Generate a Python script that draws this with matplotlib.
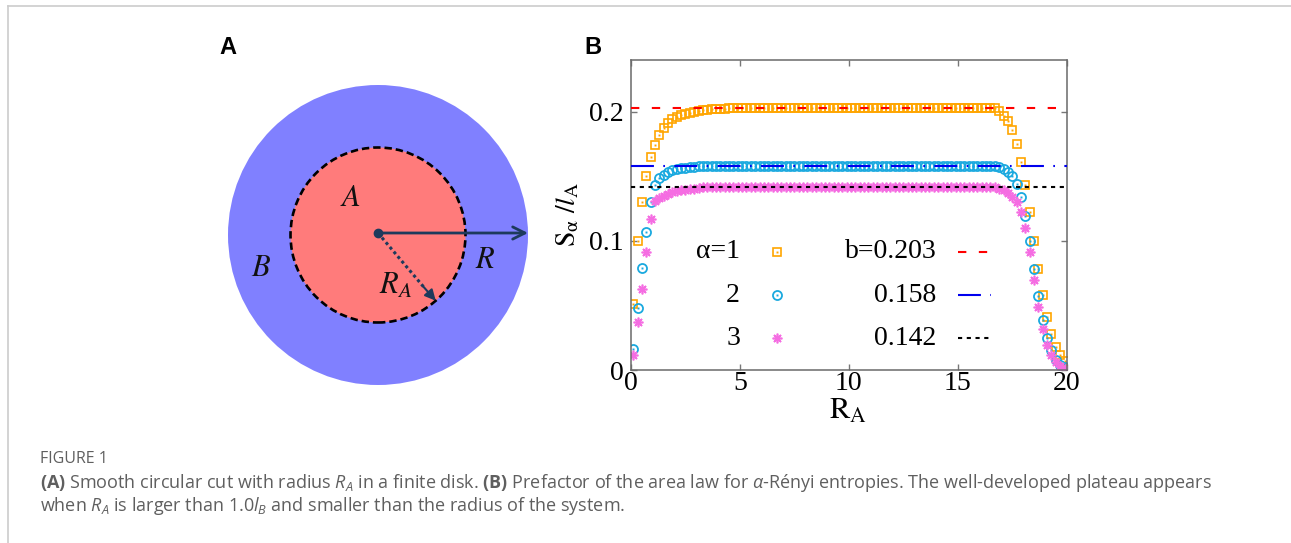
import numpy as np
import matplotlib
matplotlib.use("Agg")
import matplotlib.pyplot as plt
from matplotlib.patches import Circle
from matplotlib.lines import Line2D

plt.rcParams['mathtext.fontset'] = 'custom'
plt.rcParams['mathtext.rm'] = 'Open Sans'
plt.rcParams['mathtext.it'] = 'Open Sans:italic'
plt.rcParams['mathtext.bf'] = 'Open Sans:bold'

SERIF = ['Liberation Serif', 'DejaVu Serif']

# ---- data ----
ra = [0.1, 0.3, 0.5, 0.7, 0.9, 1.1, 1.3, 1.5, 1.7, 1.9,
      2.1, 2.3, 2.5, 2.7, 2.9, 3.1, 3.3, 3.5, 3.7, 3.9,
      4.1, 4.3, 4.5, 4.7, 4.9, 5.1, 5.3, 5.5, 5.7, 5.9,
      6.1, 6.3, 6.5, 6.7, 6.9, 7.1, 7.3, 7.5, 7.7, 7.9,
      8.1, 8.3, 8.5, 8.7, 8.9, 9.1, 9.3, 9.5, 9.7, 9.9,
      10.1, 10.3, 10.5, 10.7, 10.9, 11.1, 11.3, 11.5, 11.7, 11.9,
      12.1, 12.3, 12.5, 12.7, 12.9, 13.1, 13.3, 13.5, 13.7, 13.9,
      14.1, 14.3, 14.5, 14.7, 14.9, 15.1, 15.3, 15.5, 15.7, 15.9,
      16.1, 16.3, 16.5, 16.7, 16.9, 17.1, 17.3, 17.5, 17.7, 17.9,
      18.1, 18.3, 18.5, 18.7, 18.9, 19.1, 19.3, 19.5, 19.7, 19.9]

s_alpha1 = [0.051, 0.100, 0.130, 0.150, 0.165, 0.174, 0.182, 0.187, 0.191, 0.194,
            0.196, 0.1975, 0.1985, 0.1993, 0.2000, 0.2006, 0.2010, 0.2014, 0.2017, 0.2020,
            0.2022, 0.2024, 0.2025, 0.2026, 0.2027, 0.2028, 0.2028, 0.2029, 0.2029, 0.2030,
            0.203, 0.203, 0.203, 0.203, 0.203, 0.203, 0.203, 0.203, 0.203, 0.203,
            0.203, 0.203, 0.203, 0.203, 0.203, 0.203, 0.203, 0.203, 0.203, 0.203,
            0.203, 0.203, 0.203, 0.203, 0.203, 0.203, 0.203, 0.203, 0.203, 0.203,
            0.203, 0.203, 0.203, 0.203, 0.203, 0.203, 0.203, 0.203, 0.203, 0.203,
            0.203, 0.203, 0.203, 0.203, 0.203, 0.203, 0.203, 0.203, 0.203, 0.203,
            0.203, 0.203, 0.2029, 0.2025, 0.2005, 0.197, 0.193, 0.186, 0.175, 0.161,
            0.143, 0.122, 0.100, 0.078, 0.058, 0.041, 0.028, 0.018, 0.012, 0.007]

s_alpha2 = [0.016, 0.048, 0.079, 0.107, 0.130, 0.143, 0.1486, 0.151, 0.153, 0.1545,
            0.1555, 0.1562, 0.1567, 0.1571, 0.1574, 0.1576, 0.1578, 0.1579, 0.158, 0.158,
            0.158, 0.158, 0.158, 0.158, 0.158, 0.158, 0.158, 0.158, 0.158, 0.158,
            0.158, 0.158, 0.158, 0.158, 0.158, 0.158, 0.158, 0.158, 0.158, 0.158,
            0.158, 0.158, 0.158, 0.158, 0.158, 0.158, 0.158, 0.158, 0.158, 0.158,
            0.158, 0.158, 0.158, 0.158, 0.158, 0.158, 0.158, 0.158, 0.158, 0.158,
            0.158, 0.158, 0.158, 0.158, 0.158, 0.158, 0.158, 0.158, 0.158, 0.158,
            0.158, 0.158, 0.158, 0.158, 0.158, 0.158, 0.158, 0.158, 0.158, 0.158,
            0.158, 0.158, 0.1579, 0.1576, 0.157, 0.1555, 0.153, 0.150, 0.144, 0.134,
            0.119, 0.100, 0.078, 0.057, 0.039, 0.0245, 0.0155, 0.008, 0.004, 0.002]

s_alpha3 = [0.012, 0.037, 0.063, 0.091, 0.117, 0.1305, 0.133, 0.135, 0.1365, 0.1375,
            0.1385, 0.139, 0.1395, 0.140, 0.1405, 0.141, 0.1413, 0.1416, 0.1418, 0.142,
            0.142, 0.142, 0.142, 0.142, 0.142, 0.142, 0.142, 0.142, 0.142, 0.142,
            0.142, 0.142, 0.142, 0.142, 0.142, 0.142, 0.142, 0.142, 0.142, 0.142,
            0.142, 0.142, 0.142, 0.142, 0.142, 0.142, 0.142, 0.142, 0.142, 0.142,
            0.142, 0.142, 0.142, 0.142, 0.142, 0.142, 0.142, 0.142, 0.142, 0.142,
            0.142, 0.142, 0.142, 0.142, 0.142, 0.142, 0.142, 0.142, 0.142, 0.142,
            0.142, 0.142, 0.142, 0.142, 0.142, 0.142, 0.142, 0.142, 0.142, 0.142,
            0.142, 0.142, 0.1419, 0.1415, 0.1405, 0.139, 0.137, 0.134, 0.130, 0.122,
            0.110, 0.0917, 0.070, 0.049, 0.032, 0.019, 0.0116, 0.0065, 0.003, 0.001]

b_values = [0.203, 0.158, 0.142]
alpha_labels = ['α=1', '2', '3']
b_labels = ['b=0.203', '0.158', '0.142']
x_ticks = [0, 5, 10, 15, 20]
y_ticks = [0, 0.1, 0.2]
y_ticklabels = ['0', '0.1', '0.2']

# disk sketch (panel A), in pixel-like units
outer_r = 150
inner_r = 87.5
ra_angle = -48.7

# styles
pt_colors = ['#FFA500', '#1AA9DF', '#F56DE2']
line_colors = ['#FF0000', '#0000EE', '#000000']
line_dashes = [(4, 6), (11, 4.5, 0.8, 4.5), (2, 2.2)]

fig = plt.figure(figsize=(12.91, 5.43), dpi=100)
W, H = 1291, 543

# ---------------- panel A ----------------
axA = fig.add_axes([200 / W, 1 - 400 / H, 360 / W, 340 / H])
axA.set_xlim(-178, 182)
axA.set_ylim(-165, 175)
axA.axis('off')
axA.add_patch(Circle((0, 0), outer_r, fc='#8080FF', ec='none'))
axA.add_patch(Circle((0, 0), inner_r, fc='#FF7B7B', ec='black', lw=1.9,
                     ls=(0, (2.8, 1.5))))
navy = '#1D3A5C'
axA.annotate('', xy=(outer_r, 2), xytext=(0, 2),
             arrowprops=dict(arrowstyle='->', color=navy, lw=2, mutation_scale=22,
                             shrinkA=0, shrinkB=0))
ang = np.deg2rad(ra_angle)
ex, ey = inner_r * np.cos(ang), inner_r * np.sin(ang)
axA.plot([0, 0.8 * ex], [2, 0.8 * ey], color=navy, lw=2.2, ls=(0, (1, 1)))
axA.annotate('', xy=(ex, ey), xytext=(0.78 * ex, 0.78 * ey),
             arrowprops=dict(arrowstyle='-|>', color=navy, lw=1.5, mutation_scale=16,
                             shrinkA=0, shrinkB=0))
axA.plot(0, 2, 'o', color=navy, ms=6)
for txt, xy in [('$A$', (-28, 37)), ('$B$', (-117, -33)), ('$R$', (107, -25)),
                ('$R_A$', (18, -50))]:
    axA.text(xy[0], xy[1], txt, fontsize=22, math_fontfamily='stix',
             ha='center', va='center', color='#111111')

# ---------------- panel B ----------------
ax = fig.add_axes([631 / W, 1 - 370 / H, 435.7 / W, 310 / H])
ax.set_xlim(0, 20)
ax.set_ylim(0, 0.24)

series = [s_alpha1, s_alpha2, s_alpha3]
mk = ['s', 'o', (8, 2, 0)]
ms = [6, 6.5, 7]
mew = [1.2, 1.3, 1.2]
for y, c, m, s, w in zip(series, pt_colors, mk, ms, mew):
    ax.plot(ra, y, ls='none', marker=m, ms=s, mfc='none', mec=c, mew=w, zorder=2)
    if m != (8, 2, 0):
        ax.plot(ra, y, ls='none', marker='s', ms=1.4, mfc=c, mec=c, mew=0, zorder=2)
for b, c, d in zip(b_values, line_colors, line_dashes):
    ax.axhline(b, color=c, lw=1.5, dashes=d, zorder=3)

ax.set_xticks(x_ticks)
ax.set_xticklabels([str(v) for v in x_ticks], fontfamily=SERIF, fontsize=20)
ax.set_yticks(y_ticks)
ax.set_yticklabels(y_ticklabels, fontfamily=SERIF, fontsize=20)
ax.tick_params(direction='in', length=4, width=1, color='#777777',
               top=True, right=True)
ax.tick_params(axis='x', pad=1)
ax.tick_params(axis='y', pad=5)
for sp in ax.spines.values():
    sp.set_color('#6a6a6a')
    sp.set_linewidth(1.1)

ax.text(0.498, -0.158, r'$\mathrm{R}_{\mathrm{A}}$', transform=ax.transAxes,
        fontsize=22, math_fontfamily='stix', ha='center', va='baseline')
ax.text(-0.147, 0.503, r'$\mathrm{S}_{\mathrm{α}}\ /\mathit{l}_{\mathrm{A}}$',
        transform=ax.transAxes, fontsize=20, math_fontfamily='stix',
        rotation=90, ha='center', va='center')

# legend, gnuplot style (text right aligned, sample after)
row_y = [0.3816, 0.2419, 0.1022]
for i in range(3):
    ax.text(0.2502, row_y[i], alpha_labels[i], transform=ax.transAxes,
            fontfamily=SERIF, fontsize=20, ha='right', va='center')
    ax.plot([0.3358], [row_y[i]], transform=ax.transAxes, ls='none',
            marker=mk[i], ms=ms[i], mfc='none', mec=pt_colors[i], mew=mew[i],
            clip_on=False)
    if mk[i] != (8, 2, 0):
        ax.plot([0.3358], [row_y[i]], transform=ax.transAxes, ls='none',
                marker='s', ms=1.4, mfc=pt_colors[i], mew=0, clip_on=False)
    ax.text(0.7016, row_y[i], b_labels[i], transform=ax.transAxes,
            fontfamily=SERIF, fontsize=20, ha='right', va='center')
    ax.add_line(Line2D([0.750, 0.826], [row_y[i], row_y[i]], transform=ax.transAxes,
                       color=line_colors[i], lw=1.5, dashes=line_dashes[i]))

# panel letters
fig.text(228 / W, 1 - 48 / H, 'A', fontsize=17, fontweight='bold',
         fontfamily='Liberation Sans', ha='center', va='center')
fig.text(593 / W, 1 - 48 / H, 'B', fontsize=17, fontweight='bold',
         fontfamily='Liberation Sans', ha='center', va='center')

# caption
cap_color = '#5f5f5f'
fig.text(40 / W, 1 - 459 / H, 'FIGURE 1', fontsize=11.5, fontfamily='Open Sans',
         color=cap_color, va='center')
line1 = (r'$\mathbf{(A)}$ Smooth circular cut with radius $R_A$ in a finite disk. '
         r'$\mathbf{(B)}$ Prefactor of the area law for $\alpha$-Rényi entropies. '
         'The well-developed plateau appears')
line2 = r'when $R_A$ is larger than 1.0$l_B$ and smaller than the radius of the system.'
fig.text(40 / W, 1 - 483 / H, line1, fontsize=13, fontfamily='Open Sans',
         color=cap_color, va='center')
fig.text(40 / W, 1 - 506 / H, line2, fontsize=13, fontfamily='Open Sans',
         color=cap_color, va='center')

# frame lines of the figure box
fig.add_artist(Line2D([7.5 / W, 1], [1 - 5.5 / H, 1 - 5.5 / H], color='#cccccc', lw=1.2))
fig.add_artist(Line2D([7.5 / W, 7.5 / W], [0, 1 - 5.5 / H], color='#cccccc', lw=1.2))

fig.savefig('out.png', dpi=100)
